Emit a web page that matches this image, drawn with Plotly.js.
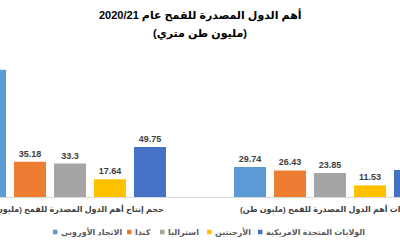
<!DOCTYPE html>
<html>
<head>
<meta charset="utf-8">
<script src="https://cdn.plot.ly/plotly-3.0.1.min.js"></script>
<style>html,body{margin:0;padding:0;background:#fff;}#chart{width:400px;height:250px;}</style>
</head>
<body>
<div id="chart"></div>
<script>
const categories = ["حجم إنتاج أهم الدول المصدرة للقمح (مليون طن)", "صادرات أهم الدول المصدرة للقمح (مليون طن)"];
const seriesNames = ["الاتحاد الأوروبي", "كندا", "استراليا", "الأرجنتين", "الولايات المتحدة الامريكية"];
const euValues = [126.69, 29.74];
const canadaValues = [35.18, 26.43];
const australiaValues = [33.3, 23.85];
const argentinaValues = [17.64, 11.53];
const usaValues = [49.75, 26.99];
const colors = ["#5B9BD5", "#ED7D31", "#A5A5A5", "#FFC000", "#4472C4"];
const titleLines = ["أهم الدول المصدرة للقمح عام 2020/21", "(مليون طن متري)"];

const allValues = [euValues, canadaValues, australiaValues, argentinaValues, usaValues];
const FONT = "Arial, 'Liberation Sans', 'DejaVu Sans', sans-serif";

const traces = allValues.map((vals, i) => ({
  type: "bar",
  name: seriesNames[i],
  x: categories,
  y: vals,
  marker: {color: colors[i]},
  text: vals.map(v => String(v)),
  textposition: "outside",
  cliponaxis: false,
  textfont: {family: FONT, size: 9, color: "#404040", weight: "bold"},
  showlegend: false,
  hoverinfo: "skip"
}));

const plotTop = 50, plotBottom = 197;
const toPaperY = py => (plotBottom - py) / (plotBottom - plotTop);

// custom legend (pixel positions converted to paper coords)
const legendSquareX = [53, 127, 160, 207, 258];
const legendY = 232;
const shapes = [];
const annotations = [];
seriesNames.forEach((n, i) => {
  shapes.push({type: "rect", xref: "paper", yref: "paper",
    x0: legendSquareX[i] / 400, x1: (legendSquareX[i] + 4.5) / 400,
    y0: toPaperY(legendY + 2.25), y1: toPaperY(legendY - 2.25),
    fillcolor: colors[i], line: {width: 0}});
  annotations.push({xref: "paper", yref: "paper", x: (legendSquareX[i] + 5.5) / 400, y: toPaperY(legendY),
    xanchor: "left", yanchor: "middle", showarrow: false, text: "<b>" + n + "</b>",
    font: {family: FONT, size: 8, color: "#595959"}});
});
// title lines
const titleY = [15, 33];
titleLines.forEach((t, i) => {
  annotations.push({xref: "paper", yref: "paper", x: 0.5, y: toPaperY(titleY[i]),
    xanchor: "center", yanchor: "middle", showarrow: false, text: "<b>" + t + "</b>",
    font: {family: FONT, size: 11, color: "#000"}});
});

const layout = {
  width: 400, height: 250,
  margin: {l: 0, r: 0, t: plotTop, b: 250 - plotBottom, pad: 0},
  paper_bgcolor: "#fff", plot_bgcolor: "#fff",
  barmode: "group", bargap: 0.231, bargroupgap: 0.2,
  xaxis: {type: "category", range: [-0.2692, 1.2692], showgrid: false, zeroline: false,
    showline: true, linecolor: "#D9D9D9", linewidth: 1, ticks: "", ticklabelstandoff: 4,
    tickfont: {family: FONT, size: 8, color: "#404040", weight: "bold"}, fixedrange: true},
  yaxis: {range: [0, 146.3], visible: false, showgrid: false, zeroline: false, fixedrange: true},
  shapes: shapes,
  annotations: annotations,
  showlegend: false
};

Plotly.newPlot("chart", traces, layout, {displayModeBar: false, staticPlot: true});
</script>
</body>
</html>
